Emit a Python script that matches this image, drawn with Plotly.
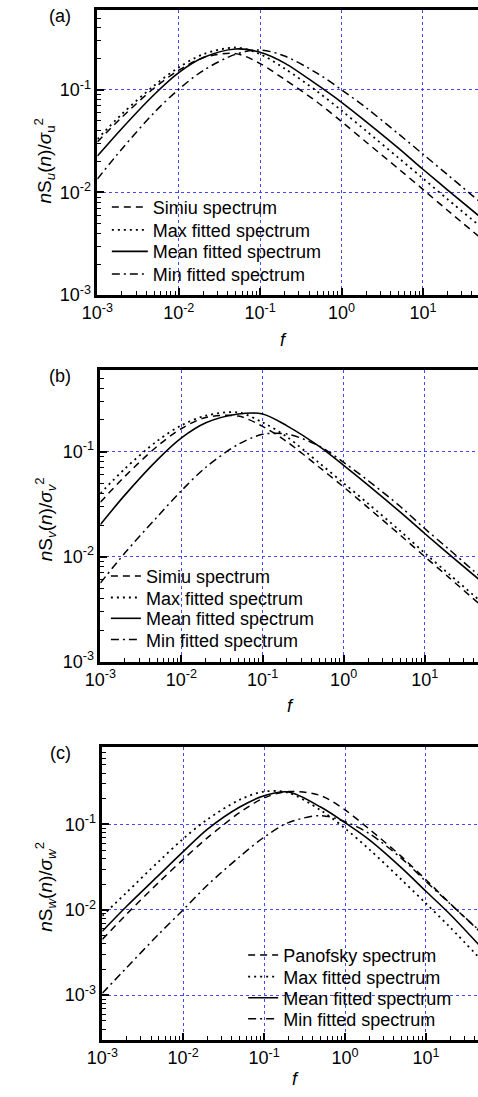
import plotly.graph_objects as go

W, H = 478, 1097

# frequency points (reduced frequency f)
F = [0.001, 0.002, 0.005, 0.01, 0.02, 0.05, 0.1, 0.2, 0.5, 1, 2, 5, 10, 20, 50]

# (a) longitudinal u
simiu_u = [0.031, 0.054, 0.104, 0.155, 0.205, 0.225, 0.18, 0.126, 0.076, 0.049, 0.031, 0.017, 0.0107, 0.0067, 0.00365]
max_u = [0.033, 0.058, 0.110, 0.165, 0.222, 0.258, 0.222, 0.161, 0.0966, 0.0627, 0.0398, 0.0217, 0.0137, 0.0086, 0.0047]
mean_u = [0.0226, 0.042, 0.090, 0.147, 0.206, 0.25, 0.232, 0.182, 0.112, 0.0755, 0.049, 0.027, 0.0168, 0.0106, 0.0058]
min_u = [0.0135, 0.0265, 0.060, 0.101, 0.154, 0.222, 0.244, 0.213, 0.145, 0.100, 0.0669, 0.0372, 0.0236, 0.0149, 0.0081]

# (b) lateral v
simiu_v = [0.033, 0.058, 0.112, 0.166, 0.211, 0.218, 0.174, 0.124, 0.071, 0.046, 0.0293, 0.016, 0.0100, 0.0063, 0.0034]
max_v = [0.040, 0.0686, 0.126, 0.178, 0.220, 0.236, 0.19, 0.138, 0.078, 0.050, 0.032, 0.0175, 0.0108, 0.0068, 0.0037]
mean_v = [0.0202, 0.0385, 0.083, 0.135, 0.188, 0.228, 0.228, 0.176, 0.112, 0.074, 0.048, 0.0265, 0.0166, 0.0105, 0.0058]
min_v = [0.0056, 0.0108, 0.0238, 0.0425, 0.071, 0.117, 0.146, 0.147, 0.113, 0.079, 0.053, 0.030, 0.0185, 0.0117, 0.0063]

# (c) vertical w
panofsky_w = [0.0045, 0.0089, 0.021, 0.039, 0.070, 0.138, 0.205, 0.243, 0.218, 0.148, 0.088, 0.042, 0.0225, 0.0118, 0.0052]
max_w = [0.0085, 0.016, 0.037, 0.068, 0.115, 0.195, 0.243, 0.235, 0.147, 0.09, 0.051, 0.0225, 0.0119, 0.0062, 0.0025]
mean_w = [0.0056, 0.011, 0.0255, 0.048, 0.088, 0.16, 0.217, 0.24, 0.16, 0.105, 0.066, 0.031, 0.0165, 0.0088, 0.0035]
min_w = [0.00105, 0.0021, 0.0052, 0.0100, 0.0195, 0.042, 0.071, 0.105, 0.127, 0.108, 0.078, 0.040, 0.0215, 0.0117, 0.0053]

names_uv = ["Simiu spectrum", "Max fitted spectrum", "Mean fitted spectrum", "Min fitted spectrum"]
names_w = ["Panofsky spectrum", "Max fitted spectrum", "Mean fitted spectrum", "Min fitted spectrum"]
panel_labels = ["(a)", "(b)", "(c)"]
comp = ["u", "v", "w"]

x_ticks = [1e-3, 1e-2, 1e-1, 1, 10]
x_text = ["10<sup>-3</sup>", "10<sup>-2</sup>", "10<sup>-1</sup>", "10<sup>0</sup>", "10<sup>1</sup>"]
y_ticks = [1e-3, 1e-2, 1e-1]
y_text = ["10<sup>-3</sup>", "10<sup>-2</sup>", "10<sup>-1</sup>"]
minor_x = [m * 10 ** e for e in range(-3, 2) for m in range(2, 10)]
minor_y = [m * 10 ** e for e in range(-4, 0) for m in range(2, 10)]

FONT = "Arial, Liberation Sans, sans-serif"


def px(x):
    return x / W


def py(y):
    return 1 - y / H


# panel geometry in pixels and axis ranges
panels = [
    dict(left=84.2, top=10, bottom=297.7, xr=[-3, 1.677], yr=[-3, -0.2218],
         data=[simiu_u, max_u, mean_u, min_u], names=names_uv,
         legx=94, legw=36, legrows=[209.3, 232.3, 254.0, 276.7],
         flab=(277, 343), ylab=(30, 162)),
    dict(left=87.3, top=373.3, bottom=667.7, xr=[-3, 1.657], yr=[-3, -0.2218],
         data=[simiu_v, max_v, mean_v, min_v], names=names_uv,
         legx=93, legw=30, legrows=[581.7, 603.3, 624.3, 645.7],
         flab=(284, 712), ylab=(30, 524)),
    dict(left=89.3, top=754.3, bottom=1049.3, xr=[-3, 1.644], yr=[-3.5229, -0.0969],
         data=[panofsky_w, max_w, mean_w, min_w], names=names_w,
         legx=235, legw=30, legrows=[964.0, 986.0, 1007.3, 1028.3],
         flab=(289, 1089), ylab=(31, 895)),
]

styles = [
    dict(dash="7px,5px", width=1.5),
    dict(dash="2px,4px", width=1.8),
    dict(dash="solid", width=1.6),
    dict(dash="8px,4px,2px,4px", width=1.5),
]

fig = go.Figure()
annotations = []
layout = {}
k = 0
for i, p in enumerate(panels):
    sfx = "" if i == 0 else str(i + 1)
    for j in range(4):
        k += 1
        legname = "legend" if k == 1 else "legend%d" % k
        fig.add_trace(go.Scatter(
            x=F, y=p["data"][j], mode="lines", name=p["names"][j],
            line=dict(color="black", width=styles[j]["width"], dash=styles[j]["dash"],
                      shape="spline", smoothing=0.9),
            xaxis="x" + sfx, yaxis="y" + sfx, legend=legname,
        ))
        layout[legname] = dict(
            x=px(p["legx"]), y=py(p["legrows"][j]), xanchor="left", yanchor="middle",
            bgcolor="rgba(0,0,0,0)", borderwidth=0,
            font=dict(family=FONT, size=18, color="black"),
            itemwidth=p["legw"],
        )
    common = dict(
        type="log", showline=True, linecolor="black", linewidth=2.5,
        ticks="inside", ticklen=7, tickwidth=1.5, tickcolor="black",
        showgrid=True, gridcolor="rgb(70,70,255)", griddash="dot", gridwidth=1,
        zeroline=False, tickmode="array",
        tickfont=dict(family=FONT, size=18, color="black"),
    )
    layout["xaxis" + sfx] = dict(
        common, domain=[px(p["left"]), 1], range=p["xr"], anchor="y" + sfx,
        tickvals=x_ticks, ticktext=x_text, mirror=True,
        minor=dict(tickmode="array", tickvals=minor_x, ticks="inside", ticklen=4,
                   tickwidth=1.2, tickcolor="black", showgrid=False),
    )
    layout["yaxis" + sfx] = dict(
        common, domain=[py(p["bottom"]), py(p["top"])], range=p["yr"], anchor="x" + sfx,
        tickvals=y_ticks, ticktext=y_text,
        minor=dict(tickmode="array", tickvals=minor_y, ticks="inside", ticklen=4,
                   tickwidth=1.2, tickcolor="black", showgrid=False),
    )
    annotations.append(dict(
        text=panel_labels[i], x=px(46), y=py(p["top"] + 6), xref="paper", yref="paper",
        showarrow=False, font=dict(family=FONT, size=18, color="black"),
        xanchor="center", yanchor="middle"))
    annotations.append(dict(
        text="<i>f</i>", x=px(p["flab"][0]), y=py(p["flab"][1]), xref="paper", yref="paper",
        showarrow=False, font=dict(family=FONT, size=18, color="black"),
        xanchor="center", yanchor="middle"))
    c = comp[i]
    sub_s = "<i>%s</i>" % c
    sub_sig = c if c == "u" else "<i>%s</i>" % c
    ytitle = "<i>n</i>S<sub>%s</sub>(<i>n</i>)/<i>σ</i><sub>%s</sub><sup>2</sup>" % (sub_s, sub_sig)
    annotations.append(dict(
        text=ytitle, x=px(p["ylab"][0]), y=py(p["ylab"][1]), xref="paper", yref="paper",
        showarrow=False, textangle=-90, font=dict(family=FONT, size=19, color="black"),
        xanchor="center", yanchor="middle"))

fig.update_layout(
    width=W, height=H, margin=dict(l=0, r=0, t=0, b=0),
    paper_bgcolor="white", plot_bgcolor="white",
    annotations=annotations, showlegend=True,
    **layout,
)
fig.write_html("out.html")
